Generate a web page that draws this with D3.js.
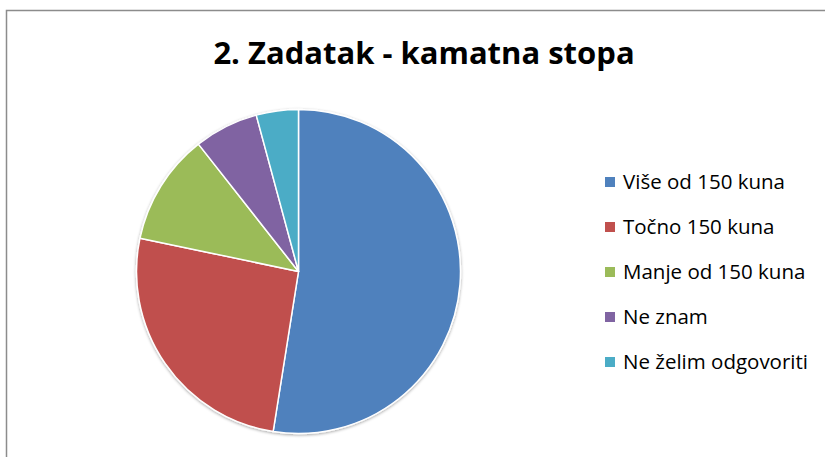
<!DOCTYPE html>
<html>
<head>
<meta charset="utf-8">
<script src="https://cdn.jsdelivr.net/npm/d3@7"></script>
<style>
  body { margin: 0; background: #fff; }
  text { font-family: "Open Sans", Lato, sans-serif; fill: #000; }
</style>
</head>
<body>
<div id="chart"></div>
<script>
const width = 825;
const height = 457;

// answers (share of responses, %)
const categories = ["Više od 150 kuna", "Točno 150 kuna", "Manje od 150 kuna", "Ne znam", "Ne želim odgovoriti"];
const values = [52.5, 25.8, 11.1, 6.4, 4.2];
const colors = ["#4F81BD", "#C0504D", "#9BBB59", "#8064A2", "#4BACC6"];
const title = "2. Zadatak - kamatna stopa";

const svg = d3.select("#chart")
  .append("svg")
  .attr("width", width)
  .attr("height", height);

// chart area border (runs off the right/bottom edge)
svg.append("rect")
  .attr("x", 6.5)
  .attr("y", 10.5)
  .attr("width", width + 10)
  .attr("height", height + 10)
  .attr("fill", "#fff")
  .attr("stroke", "#8c8c8c")
  .attr("stroke-width", 1.5);

const defs = svg.append("defs");
const shadow = defs.append("filter")
  .attr("id", "shadow")
  .attr("x", "-10%").attr("y", "-10%")
  .attr("width", "120%").attr("height", "120%");
shadow.append("feDropShadow")
  .attr("dx", 0).attr("dy", 1)
  .attr("stdDeviation", 1.5)
  .attr("flood-color", "#000")
  .attr("flood-opacity", 0.35);

svg.append("text")
  .attr("x", 424)
  .attr("y", 64)
  .attr("text-anchor", "middle")
  .style("font-size", "31px")
  .style("font-weight", "bold")
  .text(title);

const cx = 298.5, cy = 271.5, radius = 162;

const pie = d3.pie().sort(null).value(d => d);
const arc = d3.arc().innerRadius(0).outerRadius(radius);
const color = d3.scaleOrdinal().domain(categories).range(colors);

const g = svg.append("g")
  .attr("transform", `translate(${cx},${cy})`)
  .attr("filter", "url(#shadow)");

g.selectAll("path")
  .data(pie(values))
  .enter().append("path")
  .attr("d", arc)
  .attr("fill", (d, i) => color(categories[i]))
  .attr("stroke", "#fff")
  .attr("stroke-width", 1.5)
  .attr("stroke-linejoin", "round");

// legend
const legend = svg.append("g")
  .attr("transform", "translate(605,182)");

const rows = legend.selectAll("g")
  .data(categories)
  .enter().append("g")
  .attr("transform", (d, i) => `translate(0,${i * 45})`);

rows.append("rect")
  .attr("x", 0)
  .attr("y", -5)
  .attr("width", 10)
  .attr("height", 10)
  .attr("fill", d => color(d));

rows.append("text")
  .attr("x", 18)
  .attr("y", 0)
  .attr("dy", "0.35em")
  .style("font-size", "20.5px")
  .text(d => d);
</script>
</body>
</html>
